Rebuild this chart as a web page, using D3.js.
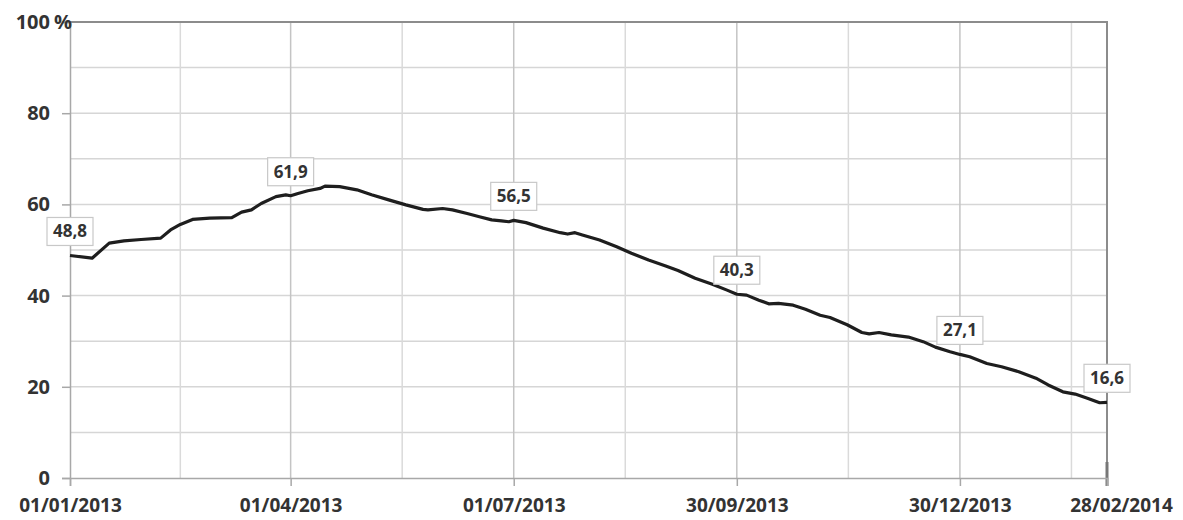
<!DOCTYPE html>
<html>
<head>
<meta charset="utf-8">
<script src="https://cdn.jsdelivr.net/npm/d3@7"></script>
<style>
body { margin: 0; background: #fff; }
text { font-family: "Open Sans", sans-serif; font-weight: 700; fill: #333; }
</style>
</head>
<body>
<script>
// Screen dimensions.
const WIDTH = 1183;
const HEIGHT = 520;

// Series.
const dates = [
    "2013-01-01", "2013-01-10", "2013-01-17", "2013-01-23", "2013-01-30", "2013-02-07",
    "2013-02-11", "2013-02-15", "2013-02-20", "2013-02-27", "2013-03-08", "2013-03-12",
    "2013-03-16", "2013-03-20", "2013-03-26", "2013-03-30", "2013-04-01", "2013-04-04",
    "2013-04-08", "2013-04-13", "2013-04-15", "2013-04-21", "2013-04-28", "2013-05-04",
    "2013-05-11", "2013-05-18", "2013-05-25", "2013-05-27", "2013-06-02", "2013-06-06",
    "2013-06-12", "2013-06-17", "2013-06-22", "2013-06-26", "2013-06-29", "2013-07-01",
    "2013-07-06", "2013-07-13", "2013-07-20", "2013-07-23", "2013-07-26", "2013-07-29",
    "2013-08-05", "2013-08-12", "2013-08-18", "2013-08-25", "2013-09-01", "2013-09-06",
    "2013-09-13", "2013-09-20", "2013-09-26", "2013-09-30", "2013-10-04", "2013-10-09",
    "2013-10-13", "2013-10-17", "2013-10-23", "2013-10-28", "2013-11-03", "2013-11-07",
    "2013-11-14", "2013-11-20", "2013-11-23", "2013-11-27", "2013-12-02", "2013-12-09",
    "2013-12-15", "2013-12-20", "2013-12-26", "2013-12-30", "2014-01-03", "2014-01-10",
    "2014-01-16", "2014-01-23", "2014-01-30", "2014-02-04", "2014-02-10", "2014-02-15",
    "2014-02-20", "2014-02-25", "2014-02-28"
];
const values = [
    48.8, 48.2, 51.5, 52.0, 52.3, 52.6,
    54.4, 55.6, 56.7, 57.0, 57.1, 58.3,
    58.8, 60.2, 61.7, 62.1, 61.9, 62.4,
    63.0, 63.5, 64.0, 63.9, 63.2, 62.1,
    61.0, 59.9, 58.9, 58.8, 59.1, 58.8,
    58.0, 57.3, 56.6, 56.4, 56.2, 56.5,
    56.0, 54.8, 53.8, 53.5, 53.8, 53.3,
    52.2, 50.7, 49.3, 47.8, 46.5, 45.5,
    43.8, 42.5, 41.2, 40.3, 40.1, 39.0,
    38.2, 38.3, 37.9, 37.0, 35.7, 35.2,
    33.6, 31.9, 31.6, 31.9, 31.4, 30.9,
    29.9, 28.7, 27.7, 27.1, 26.6, 25.1,
    24.4, 23.3, 21.9, 20.4, 18.9, 18.4,
    17.5, 16.5, 16.6
];

// Labelled points.
const labelDates = ["2013-01-01", "2013-04-01", "2013-07-01", "2013-09-30", "2013-12-30", "2014-02-28"];
const labelValues = [48.8, 61.9, 56.5, 40.3, 27.1, 16.6];

// Axis ticks.
const xTickDates = ["2013-01-01", "2013-04-01", "2013-07-01", "2013-09-30", "2013-12-30", "2014-02-28"];
const yTicks = [0, 20, 40, 60, 80, 100];
const yGrid = [10, 20, 30, 40, 50, 60, 70, 80, 90, 100];

const parse = d3.utcParse("%Y-%m-%d");
const fmt = d3.utcFormat("%d/%m/%Y");

const series = dates.map((d, i) => ({ date: parse(d), value: values[i] }));
const labels = labelDates.map((d, i) => ({ date: parse(d), value: labelValues[i] }));
const majors = xTickDates.map(parse);

// Minor vertical lines halfway between the major dates, plus one past 30/12.
const minors = [];
for (let i = 0; i < majors.length - 2; i++) {
    minors.push(new Date((+majors[i] + +majors[i + 1]) / 2));
}
const last = majors[majors.length - 2];
minors.push(new Date(+last + (+last - +majors[majors.length - 3]) / 2));

const svg = d3.select("body").append("svg").attr("width", WIDTH).attr("height", HEIGHT);

const x = d3.scaleUtc().domain([majors[0], majors[majors.length - 1]]).range([70, 1107]);
const y = d3.scaleLinear().domain([0, 100]).range([478, 22]);

// Grid
svg.append("g").selectAll("line").data(yGrid)
    .enter().append("line")
    .attr("x1", 70).attr("x2", 1107)
    .attr("y1", d => y(d)).attr("y2", d => y(d))
    .attr("stroke", "#d6d6d6").attr("stroke-width", 1.5);

svg.append("g").selectAll("line").data(minors)
    .enter().append("line")
    .attr("x1", d => x(d)).attr("x2", d => x(d))
    .attr("y1", y(100)).attr("y2", y(0))
    .attr("stroke", "#dadada").attr("stroke-width", 1.5);

svg.append("g").selectAll("line").data(majors.slice(1, -1))
    .enter().append("line")
    .attr("x1", d => x(d)).attr("x2", d => x(d))
    .attr("y1", y(100)).attr("y2", y(0))
    .attr("stroke", "#c4c4c4").attr("stroke-width", 1.5);

// Frame: top and right darker
svg.append("line").attr("x1", 70).attr("x2", 1108).attr("y1", y(100)).attr("y2", y(100))
    .attr("stroke", "#8c8c8c").attr("stroke-width", 2);
svg.append("line").attr("x1", 1107).attr("x2", 1107).attr("y1", y(100)).attr("y2", y(0) + 8)
    .attr("stroke", "#8c8c8c").attr("stroke-width", 2);
svg.append("line").attr("x1", 1107).attr("x2", 1107).attr("y1", y(0) - 16).attr("y2", y(0) + 8)
    .attr("stroke", "#777").attr("stroke-width", 3);

// Y axis
const yAxis = svg.append("g").attr("transform", "translate(70,0)")
    .call(d3.axisLeft(y).tickValues(yTicks).tickSize(8).tickPadding(12).tickFormat(d => d));
yAxis.select(".domain").attr("stroke", "#a8a8a8").attr("stroke-width", 1.5);
yAxis.selectAll(".tick line").attr("stroke", "#a8a8a8").attr("stroke-width", 1.5);
yAxis.selectAll(".tick text").style("font-size", "20px").attr("fill", "#333");
svg.append("text").attr("x", 54).attr("y", y(100)).attr("dy", "0.35em")
    .style("font-size", "20px").text("%");

// X axis
const xAxis = svg.append("g").attr("transform", `translate(0,${y(0)})`)
    .call(d3.axisBottom(x).tickValues(majors).tickSize(8).tickPadding(13).tickFormat(fmt));
xAxis.select(".domain").attr("stroke", "#a8a8a8").attr("stroke-width", 1.5);
xAxis.selectAll(".tick line").attr("stroke", "#a8a8a8").attr("stroke-width", 1.5);
xAxis.selectAll(".tick text").style("font-size", "19px").attr("fill", "#333")
    .attr("dx", (d, i) => i === majors.length - 1 ? 14 : 0);

// Line
const line = d3.line().x(d => x(d.date)).y(d => y(d.value));
svg.append("path").datum(series)
    .attr("d", line)
    .attr("fill", "none")
    .attr("stroke", "#1e1e1e")
    .attr("stroke-width", 3.2)
    .attr("stroke-linejoin", "round");

// Value labels
const lab = svg.append("g").selectAll("g").data(labels)
    .enter().append("g")
    .attr("transform", d => `translate(${x(d.date)},${y(d.value) - 24})`);
lab.append("rect")
    .attr("x", -23).attr("y", -14).attr("width", 46).attr("height", 28)
    .attr("fill", "#fff").attr("stroke", "#c8c8c8").attr("stroke-width", 1.2);
lab.append("text")
    .attr("text-anchor", "middle").attr("dy", "0.35em")
    .style("font-size", "17px")
    .text(d => d3.format(".1f")(d.value).replace(".", ","));
</script>
</body>
</html>
